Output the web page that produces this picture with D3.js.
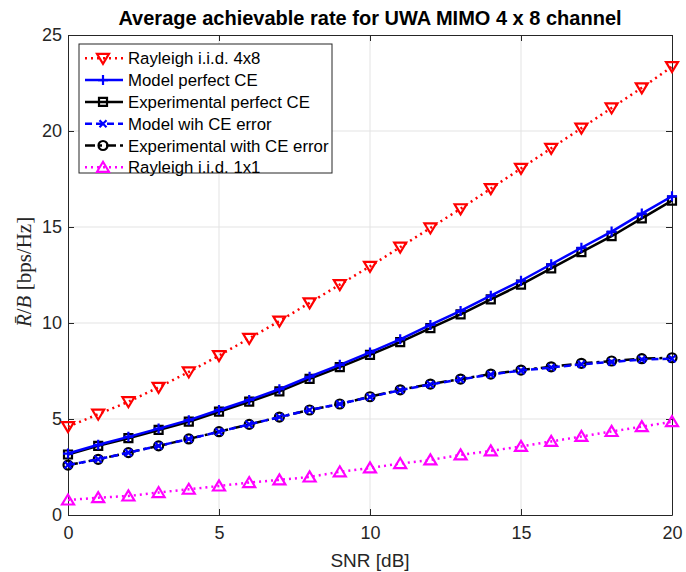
<!DOCTYPE html>
<html>
<head>
<meta charset="utf-8">
<script src="https://cdn.jsdelivr.net/npm/d3@7"></script>
<style>
  body { margin: 0; background: #fff; }
  svg text { font-family: "Liberation Sans", Arial, Helvetica, sans-serif; fill: #262626; }
</style>
</head>
<body>
<div id="chart"></div>
<script>
// Data
const snr = d3.range(0, 21);
const xTicks = [0, 5, 10, 15, 20];
const yTicks = [0, 5, 10, 15, 20, 25];

const rayleigh4x8 = [4.6, 5.25, 5.9, 6.65, 7.45, 8.3, 9.2, 10.1, 11.05, 12.0, 12.95, 13.95, 14.95, 15.95, 17.0, 18.05, 19.1, 20.15, 21.2, 22.25, 23.35];
const modelPerfect = [3.2, 3.66, 4.07, 4.5, 4.94, 5.47, 5.99, 6.55, 7.2, 7.82, 8.47, 9.15, 9.9, 10.63, 11.42, 12.2, 13.06, 13.92, 14.76, 15.7, 16.6];
const expPerfect = [3.15, 3.6, 4.0, 4.43, 4.86, 5.38, 5.9, 6.44, 7.09, 7.7, 8.34, 9.0, 9.73, 10.45, 11.23, 12.0, 12.84, 13.69, 14.52, 15.45, 16.37];
const modelErr = [2.6, 2.9, 3.25, 3.6, 3.96, 4.34, 4.72, 5.1, 5.47, 5.78, 6.15, 6.5, 6.8, 7.06, 7.32, 7.52, 7.68, 7.85, 7.97, 8.1, 8.14];
const expErr = [2.6, 2.9, 3.25, 3.6, 3.96, 4.34, 4.72, 5.1, 5.47, 5.78, 6.16, 6.52, 6.82, 7.08, 7.34, 7.55, 7.72, 7.9, 8.02, 8.14, 8.19];
const rayleigh1x1 = [0.78, 0.9, 0.99, 1.17, 1.34, 1.51, 1.69, 1.83, 1.98, 2.25, 2.45, 2.68, 2.87, 3.13, 3.34, 3.57, 3.83, 4.09, 4.35, 4.6, 4.86];

const series = [
  {name: "Rayleigh i.i.d. 4x8", values: rayleigh4x8, color: "#ff0000", dash: "2,4", marker: "tridown"},
  {name: "Model perfect CE", values: modelPerfect, color: "#0000ff", dash: null, marker: "plus"},
  {name: "Experimental perfect CE", values: expPerfect, color: "#000000", dash: null, marker: "square"},
  {name: "Model wih CE error", values: modelErr, color: "#0000ff", dash: "7,4", marker: "cross"},
  {name: "Experimental with CE error", values: expErr, color: "#000000", dash: "10,4,3,4", marker: "circle"},
  {name: "Rayleigh i.i.d. 1x1", values: rayleigh1x1, color: "#ff00ff", dash: "2,4", marker: "triup"}
];

const W = 686, H = 572;
const margin = {top: 35, right: 14, bottom: 57, left: 68};
const w = W - margin.left - margin.right;
const h = H - margin.top - margin.bottom;

const svg = d3.select("#chart").append("svg")
  .attr("width", W).attr("height", H);

const x = d3.scaleLinear().domain([0, 20]).range([0, w]);
const y = d3.scaleLinear().domain([0, 25]).range([h, 0]);

const g = svg.append("g")
  .attr("transform", "translate(" + margin.left + "," + margin.top + ")");

// grid
g.append("g").selectAll("line").data(xTicks.slice(1, -1)).enter().append("line")
  .attr("x1", d => x(d)).attr("x2", d => x(d)).attr("y1", 0).attr("y2", h)
  .attr("stroke", "#e3e3e3").attr("stroke-width", 1);
g.append("g").selectAll("line").data(yTicks.slice(1, -1)).enter().append("line")
  .attr("y1", d => y(d)).attr("y2", d => y(d)).attr("x1", 0).attr("x2", w)
  .attr("stroke", "#e3e3e3").attr("stroke-width", 1);

// axes (ticks inward on all sides)
function styleAxis(sel) {
  sel.select(".domain").attr("stroke", "#262626");
  sel.selectAll(".tick line").attr("stroke", "#262626");
  sel.selectAll("text").attr("font-size", "18px").attr("fill", "#262626")
    .style("font-family", "'Liberation Sans', Arial, sans-serif");
}
g.append("g").attr("transform", "translate(0," + h + ")")
  .call(d3.axisBottom(x).tickValues(xTicks).tickSize(-6).tickSizeOuter(0).tickPadding(11))
  .call(styleAxis);
g.append("g")
  .call(d3.axisTop(x).tickValues(xTicks).tickSize(-6).tickSizeOuter(0).tickFormat(""))
  .call(styleAxis);
g.append("g")
  .call(d3.axisLeft(y).tickValues(yTicks).tickSize(-6).tickSizeOuter(0).tickPadding(6))
  .call(styleAxis);
g.append("g").attr("transform", "translate(" + w + ",0)")
  .call(d3.axisRight(y).tickValues(yTicks).tickSize(-6).tickSizeOuter(0).tickFormat(""))
  .call(styleAxis);

// marker paths
function markerPath(type) {
  switch (type) {
    case "tridown": return "M-6,-4.5L6,-4.5L0,5.5Z";
    case "triup": return "M-6,4.5L6,4.5L0,-5.5Z";
    case "square": return "M-4,-4L4,-4L4,4L-4,4Z";
    case "plus": return "M-5,0L5,0M0,-5L0,5";
    case "cross": return "M-3.5,-3.5L3.5,3.5M-3.5,3.5L3.5,-3.5";
    case "circle": return "M4.5,0A4.5,4.5 0 1,1 -4.5,0A4.5,4.5 0 1,1 4.5,0Z";
  }
}

const line = d3.line().x((d, i) => x(snr[i])).y(d => y(d));

// draw order: black under blue where they overlap
const order = [0, 2, 1, 4, 3, 5];
order.forEach(k => {
  const s = series[k];
  g.append("path")
    .datum(s.values)
    .attr("d", line)
    .attr("fill", "none")
    .attr("stroke", s.color)
    .attr("stroke-width", 2.5)
    .attr("stroke-dasharray", s.dash);
  g.append("g").selectAll("path")
    .data(s.values).enter().append("path")
      .attr("transform", (d, i) => "translate(" + x(snr[i]) + "," + y(d) + ")")
      .attr("d", markerPath(s.marker))
      .attr("fill", "none")
      .attr("stroke", s.color)
      .attr("stroke-width", 2.2);
});

// legend
const leg = svg.append("g").attr("transform", "translate(79,44)");
leg.append("rect").attr("width", 253).attr("height", 129)
  .attr("fill", "#fff").attr("stroke", "#262626").attr("stroke-width", 1);
series.forEach((s, i) => {
  const ly = 14.3 + i * 21.8;
  leg.append("line").attr("x1", 6).attr("x2", 44).attr("y1", ly).attr("y2", ly)
    .attr("stroke", s.color).attr("stroke-width", 2.5).attr("stroke-dasharray", s.dash);
  leg.append("path").attr("transform", "translate(24," + ly + ")")
    .attr("d", markerPath(s.marker)).attr("fill", "none")
    .attr("stroke", s.color).attr("stroke-width", 2.2);
  leg.append("text").attr("x", 49).attr("y", ly + 6)
    .attr("font-size", "16.8px").style("fill", "#000").text(s.name);
});

// title
svg.append("text")
  .attr("x", margin.left + w / 2).attr("y", 25)
  .attr("text-anchor", "middle")
  .attr("font-size", "20px").attr("font-weight", "bold")
  .style("fill", "#000")
  .text("Average achievable rate for UWA MIMO 4 x 8 channel");

// x label
svg.append("text")
  .attr("x", margin.left + w / 2).attr("y", 567)
  .attr("text-anchor", "middle")
  .attr("font-size", "19px")
  .text("SNR [dB]");

// y label (LaTeX style)
const yl = svg.append("text")
  .attr("transform", "translate(31," + 272 + ")rotate(-90)")
  .attr("text-anchor", "middle")
  .attr("font-size", "21px")
  .style("font-family", "'Liberation Serif', 'DejaVu Serif', serif");
yl.append("tspan").attr("font-style", "italic").text("R\u0304");
yl.append("tspan").text("/");
yl.append("tspan").attr("font-style", "italic").text("B");
yl.append("tspan").text(" [bps/Hz]");
</script>
</body>
</html>
